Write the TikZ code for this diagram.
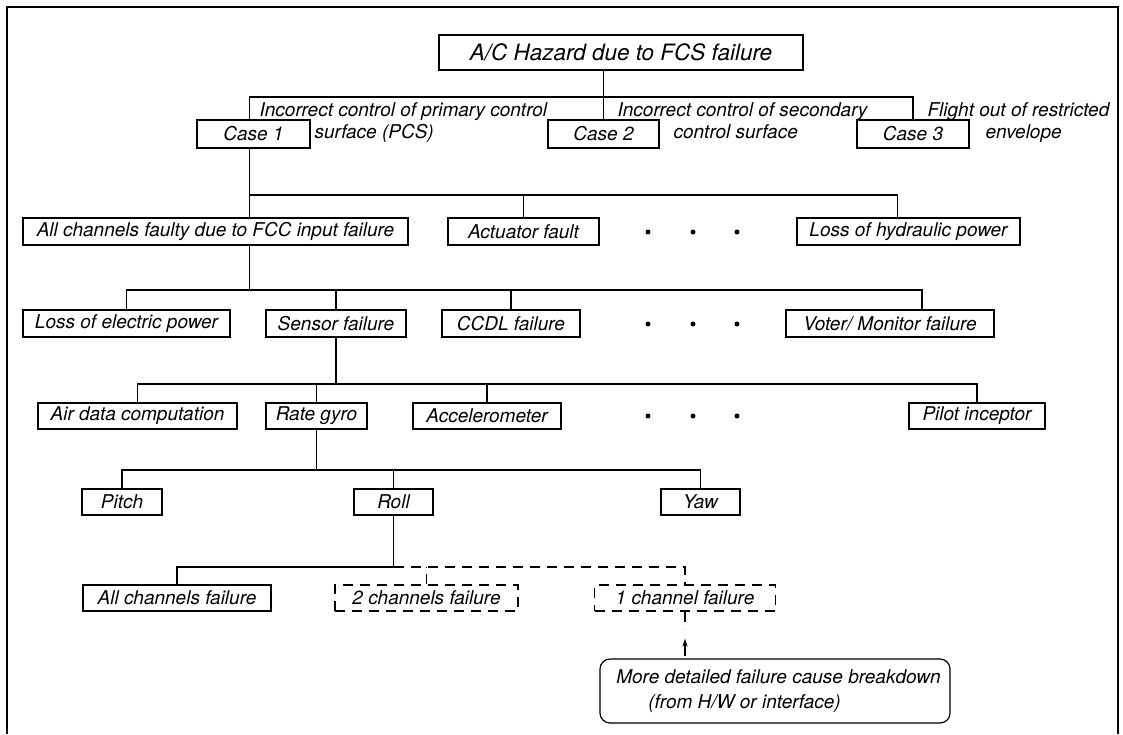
\documentclass[tikz,border=0pt]{standalone}
\usepackage{fontspec}
\setmainfont{TeX Gyre Heros}
\usetikzlibrary{calc,arrows.meta}

\begin{document}
\begin{tikzpicture}[x=1pt,y=1pt,line width=1.2pt,
  font=\itshape\fontsize{19}{22}\selectfont,
  box/.style={draw=black,rectangle,minimum height=27pt},
  dashline/.style={dash pattern=on 10pt off 7pt}]
\tikzstyle{every node}+=[inner sep=0pt]
\useasboundingbox (0,0) rectangle (1123,-734);
\draw [black] (7,-734) -- (7,-7) -- (1118,-7) -- (1118,-734);
\node [box,minimum width=364pt,minimum height=35pt,font=\itshape\fontsize{22.5}{27}\selectfont] (hazard) at (621,-52.5) {A/C Hazard due to FCS failure};
\node [box,minimum width=113pt,minimum height=28pt] (case1) at (253.5,-134) {Case 1};
\node [box,minimum width=111pt,minimum height=28pt] (case2) at (603.5,-134) {Case 2};
\node [box,minimum width=112pt,minimum height=28pt] (case3) at (913,-134) {Case 3};
\node [anchor=base west,align=left] (pcs) at (259,-138) {Incorrect control of primary control\\\hspace*{55pt}surface (PCS)};
\node [anchor=base west,align=left] (scs) at (617,-138) {Incorrect control of secondary\\\hspace*{56pt}control surface};
\node [anchor=base west,align=left] (envelope) at (927,-138) {Flight out of restricted\\\hspace*{58pt}envelope};
\node [box,minimum width=385pt] (fccin) at (215.5,-231.5) {All channels faulty due to FCC input failure};
\node [box,minimum width=151pt] (actuator) at (523.5,-231.5) {Actuator fault};
\node [box,minimum width=223pt] (hydraulic) at (908.5,-231.5) {Loss of hydraulic power};
\node [box,minimum width=207pt] (elecpower) at (126.5,-323.5) {Loss of electric power};
\node [box,minimum width=140pt] (sensor) at (336,-323.5) {Sensor failure};
\node [box,minimum width=138pt] (ccdl) at (511,-323.5) {CCDL failure};
\node [box,minimum width=208pt] (voter) at (890,-323.5) {Voter/ Monitor failure};
\node [box,minimum width=199pt,minimum height=26pt] (airdata) at (137.5,-416) {Air data computation};
\node [box,minimum width=101pt,minimum height=26pt] (rategyro) at (316.5,-416) {Rate gyro};
\node [box,minimum width=148pt,minimum height=26pt] (accel) at (487,-416) {Accelerometer};
\node [box,minimum width=136pt,minimum height=26pt] (pilot) at (977,-416) {Pilot inceptor};
\node [box,minimum width=80pt,minimum height=26pt] (pitch) at (122,-502) {Pitch};
\node [box,minimum width=79pt,minimum height=26pt] (roll) at (393.5,-502) {Roll};
\node [box,minimum width=79pt,minimum height=26pt] (yaw) at (700.5,-502) {Yaw};
\node [box,minimum width=188pt,minimum height=26pt] (allch) at (177,-598) {All channels failure};
\node [box,dashline,minimum width=183pt,minimum height=26pt] (twoch) at (426.5,-598) {2 channels failure};
\node [box,dashline,minimum width=181pt,minimum height=26pt] (onech) at (685,-598) {1 channel failure};
\node [box,rounded corners=10pt,minimum width=350pt,minimum height=64pt,align=left] (more) at (775,-691) {\hspace*{7pt}More detailed failure cause breakdown\\[3pt]\hspace*{39pt}(from H/W or interface)};
\coordinate (bus1) at (0,-97);
\coordinate (bus2) at (0,-195);
\coordinate (bus3) at (0,-290);
\coordinate (bus4) at (0,-384);
\coordinate (bus5) at (0,-470);
\coordinate (bus6) at (0,-567);
\draw [black] (hazard.south -| case2) -- (case2.north);
\draw [black] ([xshift=-4pt]case1.north) -- ([xshift=-4pt]case1.north |- bus1) -| (case3.north);
\draw [black] ([xshift=-4pt]case1.south) -- ([xshift=-4pt]case1.south |- fccin.north);
\draw [black] ([xshift=-4pt]case1.south |- bus2) -| ([xshift=-11pt]hydraulic.north);
\draw [black] (actuator.north) -- (actuator.north |- bus2);
\draw [black] ([xshift=-4pt]case1.south |- fccin.south) -- ([xshift=-4pt]case1.south |- bus3);
\draw [black] (elecpower.north) -- (elecpower.north |- bus3) -| ([xshift=32pt]voter.north);
\draw [black] (sensor.north) -- (sensor.north |- bus3);
\draw [black] (ccdl.north) -- (ccdl.north |- bus3);
\draw [black] (sensor.south) -- (sensor.south |- bus4);
\draw [black] (airdata.north) -- (airdata.north |- bus4) -| (pilot.north);
\draw [black] (rategyro.north) -- (rategyro.north |- bus4);
\draw [black] (accel.north) -- (accel.north |- bus4);
\draw [black] (rategyro.south) -- (rategyro.south |- bus5);
\draw [black] (pitch.north) -- (pitch.north |- bus5) -| (yaw.north);
\draw [black] (roll.north) -- (roll.north |- bus5);
\draw [black] (roll.south) -- (roll.south |- bus6);
\draw [black] (allch.north) -- (allch.north |- bus6) -- (roll.south |- bus6);
\draw [black,dashline] (roll.south |- bus6) -| (onech.north);
\draw [black,dashline] (twoch.north) -- (twoch.north |- bus6);
\draw [black,dashline] (onech.south) -- ++(0,-17);
\draw [black,line width=2.4pt,-{Stealth[length=8pt,width=5pt]}] ($(onech.south |- more.north)+(0,2)$) -- ($(onech.south)+(0,-27)$);
\fill [black] (648,-232) circle (2.5);
\fill [black] (693,-232) circle (2.5);
\fill [black] (737,-232) circle (2.5);
\fill [black] (648,-324) circle (2.5);
\fill [black] (693,-324) circle (2.5);
\fill [black] (737,-324) circle (2.5);
\fill [black] (648,-416) circle (2.5);
\fill [black] (693,-416) circle (2.5);
\fill [black] (737,-416) circle (2.5);
\end{tikzpicture}
\end{document}
